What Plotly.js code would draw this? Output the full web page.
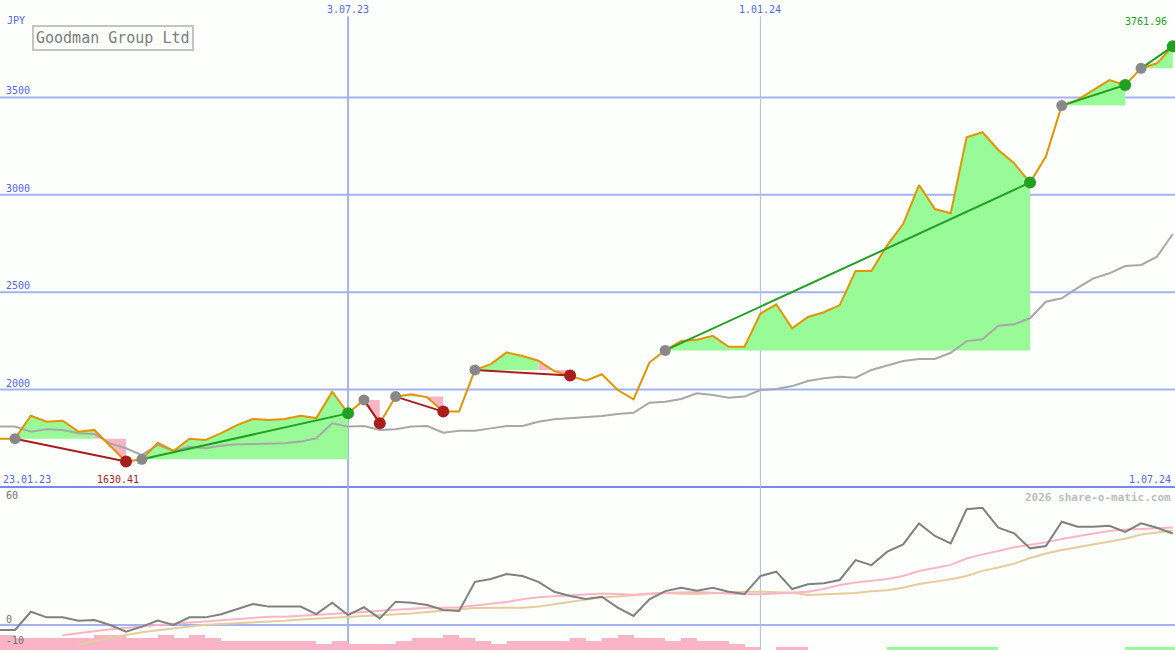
<!DOCTYPE html>
<html><head><meta charset="utf-8">
<script src="https://cdn.plot.ly/plotly-3.0.1.min.js"></script>
<style>html,body{margin:0;padding:0;background:#fcfffc;}#chart{width:1175px;height:650px;}</style>
</head><body><div id="chart"></div>
<script>
// ---- data (weekly, first point 30.01.23) ----
const firstWeek = '2023-01-30';
const price = [1748,1748,1866,1835,1840,1784,1793,1710,1630.41,1642,
  1727,1685,1748,1741,1777,1818,1849,1844,1849,1866,
  1854,1989,1878,1947,1827,1964,1976,1960,1887,1887,
  2101,2131,2191,2172,2148,2095,2072,2046,2079,1998,
  1950,2139,2201,2250,2256,2276,2220,2220,2390,2438,
  2315,2373,2397,2434,2609,2609,2742,2850,3050,2927,
  2905,3295,3321,3230,3162,3063,3196,3458,3487,3538,
  3589,3564,3649,3675,3761.96];
const avg = [1810,1810,1784,1796,1793,1776,1772,1724,1699,1664,
  1716,1685,1707,1699,1712,1719,1721,1721,1724,1733,
  1750,1827,1810,1813,1793,1796,1810,1813,1779,1789,
  1789,1801,1813,1813,1835,1848,1853,1858,1864,1875,
  1881,1933,1938,1952,1981,1972,1958,1964,1998,2003,
  2018,2044,2058,2066,2061,2101,2126,2147,2157,2157,
  2189,2249,2258,2328,2335,2366,2451,2469,2522,2571,
  2597,2634,2640,2682,2799];
const osc = [-2.4,-2.4,6.4,3.7,3.7,2.1,2.4,0,-3.2,-0.8,
  2.1,0,3.7,3.7,5.2,7.7,10.2,8.9,8.9,8.9,
  5.3,10.8,4.8,8.6,3.2,11.3,10.8,9.7,7.3,6.8,
  20.9,22.3,24.7,23.7,20.9,16.1,14.0,12.6,13.7,8.4,
  4.4,12.4,16.4,18.0,16.6,18.0,16.1,15.0,23.7,25.8,
  17.4,19.7,20.2,21.8,31.4,29.0,35.5,39.0,49.2,43.1,
  39.5,56.0,56.7,47.1,44.4,37.1,38.2,50.0,47.6,47.6,
  48.0,45.1,49.2,47.1,44.3];
const oscSlow = [null,null,null,null,-5.0,-3.9,-3.0,-2.1,-1.3,-0.5,
  0,0.6,1.3,1.7,2.3,2.9,3.5,4.0,4.0,4.4,
  4.8,5.3,5.7,6.3,6.9,7.5,8.1,8.4,8.4,8.6,
  9.4,10.3,11.1,12.5,13.4,13.9,14.4,14.9,15.3,15.0,
  14.6,15.2,15.5,15.8,16.0,15.6,15.1,14.9,14.9,15.2,
  15.6,16.1,17.4,19.4,20.6,21.4,22.3,23.7,26.1,27.6,
  29.1,32.2,34.2,35.8,37.6,38.9,40.0,41.6,43.1,44.3,
  45.5,46.2,46.5,46.9,47.2];
const oscSignal = [null,null,null,null,null,-9.7,-7.7,-6.2,-4.8,-3.5,
  -2.5,-1.6,-0.7,0.1,0.5,0.8,1.3,1.6,2.0,2.7,
  3.1,3.5,3.9,4.3,4.6,5.1,5.6,6.3,6.8,7.6,
  8.2,8.4,8.4,8.4,8.9,10.0,11.3,12.3,13.3,13.9,
  14.3,15.0,15.5,15.1,15.0,15.4,15.8,16.1,16.1,15.9,
  15.6,14.5,14.8,15.0,15.5,16.3,16.8,18.0,19.8,21.0,
  22.1,23.7,26.2,27.8,29.7,32.4,34.6,36.3,37.7,38.8,
  40.3,41.8,43.8,44.6,45.7];
const hist = [-7.3,-6.0,-6.0,-6.0,-6.0,-6.0,-7.3,-7.3,-6.0,-6.0,
  -7.3,-6.0,-7.3,-6.0,-4.4,-4.4,-4.4,-4.4,-4.4,-4.4,
  -2.9,-4.4,-2.9,-2.9,-2.9,-4.4,-6.0,-6.0,-7.3,-6.0,
  -4.4,-2.9,-4.4,-4.4,-4.4,-4.4,-6.0,-4.4,-6.0,-7.3,
  -6.0,-6.0,-4.4,-6.0,-4.4,-4.4,-2.9,-1.5,0,-1.5,
  -1.5,0,0,0,0,0,1.5,1.5,1.5,1.5,
  1.5,1.5,1.5,0,0,0,0,0,0,0,
  0,1.5,1.5,1.5,1.5];
// swings: index of start and end week in the series
const swingFrom = [1,9,23,25,30,42,67,72];
const swingTo   = [8,22,24,28,36,65,71,74];
// axis labels
const priceTicks = [2000,2500,3000,3500];
const oscTicks = [60,0,-10];
const dateTicks = ['2023-07-03','2024-01-01'];
const dateTickText = ['3.07.23','1.01.24'];
const rangeStartText = '23.01.23', rangeEndText = '1.07.24';
const title = 'Goodman Group Ltd';
const currency = 'JPY';
const credit = '2026 share-o-matic.com';

// ---- build ----
const WEEK = 7*24*3600*1000;
const T0 = Date.parse(firstWeek + 'T00:00:00Z');
const fmt = ms => new Date(ms).toISOString().slice(0,19).replace('T',' ');
const dates = price.map((_, i) => fmt(T0 + i*WEEK));
const GREEN_FILL = '#98fb98', PINK = '#f9b4c8';
const GREEN = '#22a022', RED = '#a81e1e';
const BLUE = '#5466f0', GRID = '#a4b2f2';
const MONO = 'DejaVu Sans Mono, monospace';
const Y1 = [1500, 4000], Y2 = [-12.1, 66.8], SPLIT = 163/650;

const traces = [];
// swing area fills
swingFrom.forEach((a, s) => {
  const b = swingTo[s], level = price[a];
  let i = a;
  while (i < b) {
    const up = price[i+1] >= level;
    let j = i;
    while (j < b && (price[j+1] >= level) === up) j++;
    traces.push({x: [dates[i], ...dates.slice(i, j+1), dates[j]],
      y: [level, ...price.slice(i, j+1), level], type: 'scatter', mode: 'lines',
      fill: 'toself', fillcolor: up ? GREEN_FILL : PINK, line: {width: 0},
      hoverinfo: 'skip', xaxis: 'x', yaxis: 'y'});
    i = j;
  }
});
traces.push({x: dates, y: avg, type: 'scatter', mode: 'lines',
  line: {color: '#a8a8a8', width: 2}, xaxis: 'x', yaxis: 'y'});
traces.push({x: dates, y: price, type: 'scatter', mode: 'lines',
  line: {color: '#e39400', width: 2}, xaxis: 'x', yaxis: 'y'});
swingFrom.forEach((a, s) => {
  const b = swingTo[s];
  traces.push({x: [dates[a], dates[b]], y: [price[a], price[b]], type: 'scatter', mode: 'lines',
    line: {color: price[b] >= price[a] ? GREEN : RED, width: 2}, xaxis: 'x', yaxis: 'y'});
});
traces.push({x: swingFrom.map(i => dates[i]), y: swingFrom.map(i => price[i]),
  type: 'scatter', mode: 'markers', marker: {color: '#888888', size: 11}, xaxis: 'x', yaxis: 'y'});
traces.push({x: swingTo.map(i => dates[i]), y: swingTo.map(i => price[i]),
  type: 'scatter', mode: 'markers',
  marker: {color: swingTo.map((b, s) => price[b] >= price[swingFrom[s]] ? GREEN : RED), size: 12},
  xaxis: 'x', yaxis: 'y'});
// oscillator panel
traces.push({x: dates, y: hist.map(v => v === 0 ? null : Math.abs(v)), base: Y2[0],
  type: 'bar', width: WEEK, offset: 0,
  marker: {color: hist.map(v => v >= 0 ? GREEN_FILL : PINK), line: {width: 0}},
  xaxis: 'x', yaxis: 'y2'});
traces.push({x: dates, y: oscSignal, type: 'scatter', mode: 'lines',
  line: {color: '#e6cc9c', width: 2}, xaxis: 'x', yaxis: 'y2'});
traces.push({x: dates, y: oscSlow, type: 'scatter', mode: 'lines',
  line: {color: '#ffb4c8', width: 2}, xaxis: 'x', yaxis: 'y2'});
traces.push({x: dates, y: osc, type: 'scatter', mode: 'lines',
  line: {color: '#808080', width: 2}, xaxis: 'x', yaxis: 'y2'});

const shapes = [];
priceTicks.forEach(v => shapes.push({type: 'line', layer: 'below', xref: 'paper', x0: 0, x1: 1,
  yref: 'y', y0: v, y1: v, line: {color: GRID, width: 2}}));
shapes.push({type: 'line', layer: 'below', xref: 'paper', x0: 0, x1: 1,
  yref: 'y2', y0: 0, y1: 0, line: {color: GRID, width: 2}});
shapes.push({type: 'line', layer: 'below', xref: 'paper', x0: 0, x1: 1,
  yref: 'paper', y0: SPLIT, y1: SPLIT, line: {color: '#7888ee', width: 2}});
dateTicks.forEach((d, i) => shapes.push({type: 'line', layer: 'below', xref: 'x', x0: d, x1: d,
  yref: 'paper', y0: 0, y1: 0.975, line: {color: i === 0 ? GRID : '#b4bade', width: i === 0 ? 2 : 1}}));

const ann = [];
const f = (size, color) => ({family: MONO, size: size, color: color});
priceTicks.forEach(v => ann.push({xref: 'paper', x: 0.003, xanchor: 'left', yref: 'y', y: v,
  yanchor: 'bottom', yshift: -1, text: String(v), showarrow: false, font: f(10, BLUE)}));
oscTicks.forEach(v => ann.push({xref: 'paper', x: 0.003, xanchor: 'left', yref: 'y2', y: v,
  yanchor: 'bottom', yshift: -2, text: String(v), showarrow: false, font: f(10, '#707070')}));
dateTicks.forEach((d, i) => ann.push({xref: 'x', x: d, xanchor: 'center', yref: 'paper', y: 1,
  yanchor: 'top', yshift: -2, text: dateTickText[i], showarrow: false, font: f(10, BLUE)}));
ann.push({xref: 'paper', x: 0.001, xanchor: 'left', yref: 'y', y: Y1[0], yanchor: 'bottom', yshift: 0,
  text: rangeStartText, showarrow: false, font: f(10, BLUE)});
ann.push({xref: 'paper', x: 0.998, xanchor: 'right', yref: 'y', y: Y1[0], yanchor: 'bottom', yshift: 0,
  text: rangeEndText, showarrow: false, font: f(10, BLUE)});
ann.push({xref: 'paper', x: 0.004, xanchor: 'left', yref: 'paper', y: 1, yanchor: 'top', yshift: -13,
  text: currency, showarrow: false, font: f(10, BLUE)});
ann.push({xref: 'paper', x: 32/1175, xanchor: 'left', yref: 'paper', y: 1 - 25/650, yanchor: 'top',
  text: title, showarrow: false, font: f(15, '#7c7c7c'), bordercolor: '#c4c4c4', borderwidth: 2,
  borderpad: 2, bgcolor: '#fcfffc'});
ann.push({xref: 'paper', x: 0.998, xanchor: 'right', yref: 'paper', y: SPLIT, yanchor: 'top', yshift: -2,
  text: '<b>' + credit + '</b>', showarrow: false, font: f(11, '#bdbdbd')});
// extreme labels
let lo = 0, hi = 0;
price.forEach((p, i) => { if (p < price[lo]) lo = i; if (p > price[hi]) hi = i; });
ann.push({xref: 'x', x: dates[lo], xanchor: 'center', xshift: -8, yref: 'y', y: Y1[0], yanchor: 'bottom',
  text: price[lo].toFixed(2), showarrow: false, font: f(10, RED)});
ann.push({xref: 'x', x: dates[hi], xanchor: 'right', xshift: -4, yref: 'paper', y: 1, yanchor: 'top', yshift: -14,
  text: price[hi].toFixed(2), showarrow: false, font: f(10, GREEN)});

const layout = {
  width: 1175, height: 650, margin: {l: 0, r: 0, t: 0, b: 0, pad: 0},
  paper_bgcolor: '#fcfffc', plot_bgcolor: '#fcfffc', showlegend: false, bargap: 0,
  xaxis: {type: 'date', range: [T0 + 0.054*WEEK, T0 + 74.14*WEEK], showgrid: false, zeroline: false,
    showticklabels: false, ticks: '', showline: false, anchor: 'y2'},
  yaxis: {domain: [SPLIT, 1], range: Y1, showgrid: false, zeroline: false, showticklabels: false, ticks: ''},
  yaxis2: {domain: [0, SPLIT], range: Y2, showgrid: false, zeroline: false, showticklabels: false, ticks: ''},
  shapes: shapes, annotations: ann, hovermode: false
};
Plotly.newPlot('chart', traces, layout, {displayModeBar: false, staticPlot: true});
</script></body></html>
